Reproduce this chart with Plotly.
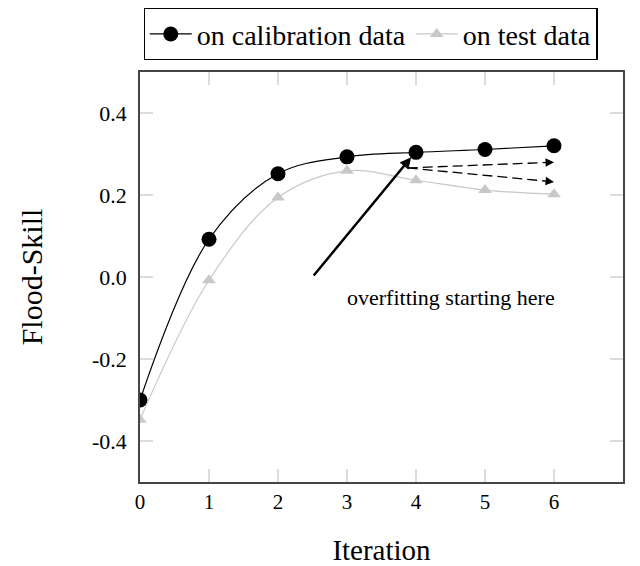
import plotly.graph_objects as go

iterations = [0, 1, 2, 3, 4, 5, 6]
calibration = [-0.30, 0.092, 0.252, 0.293, 0.304, 0.311, 0.320]
test = [-0.348, -0.008, 0.194, 0.259, 0.236, 0.212, 0.202]
y_tickvals = [-0.4, -0.2, 0.0, 0.2, 0.4]
y_ticktext = ["-0.4", "-0.2", "0.0", "0.2", "0.4"]
x_tickvals = [0, 1, 2, 3, 4, 5, 6]

# annotation geometry (data coords)
main_arrow_tail = (2.5, 0.0)
main_arrow_tip = (3.93, 0.292)
dash_start = (3.88, 0.266)
dash_ends = [(6.0, 0.280), (6.0, 0.232)]
note_pos = (4.5, -0.05)
note_text = "overfitting starting here"

FONT = "Liberation Serif"

fig = go.Figure()
fig.add_trace(go.Scatter(
    x=iterations, y=calibration, name="on calibration data",
    mode="lines+markers",
    line=dict(color="black", width=1.2, shape="spline", smoothing=1.0),
    marker=dict(symbol="circle", size=15, color="black"),
))
fig.add_trace(go.Scatter(
    x=iterations, y=test, name="on test data",
    mode="lines+markers",
    line=dict(color="#c8c8c8", width=1.2, shape="spline", smoothing=1.0),
    marker=dict(symbol="triangle-up", size=12, color="#c8c8c8"),
))

# dashed arrows
for ex, ey in dash_ends:
    slope = (ey - dash_start[1]) / (ex - dash_start[0])
    fig.add_trace(go.Scatter(
        x=[dash_start[0], ex - 0.08], y=[dash_start[1], ey - 0.08 * slope],
        mode="lines", line=dict(color="black", width=1.3, dash="10px,5px"),
        showlegend=False, hoverinfo="skip",
    ))
    fig.add_annotation(
        x=ex, y=ey, ax=ex - 0.1, ay=ey - 0.1 * slope,
        xref="x", yref="y", axref="x", ayref="y",
        text="", showarrow=True, arrowhead=2, arrowsize=1.3, arrowwidth=1.3,
        arrowcolor="black",
    )

fig.add_annotation(
    x=main_arrow_tip[0], y=main_arrow_tip[1],
    ax=main_arrow_tail[0], ay=main_arrow_tail[1],
    xref="x", yref="y", axref="x", ayref="y",
    text="", showarrow=True, arrowhead=2, arrowsize=0.9, arrowwidth=2.5,
    arrowcolor="black",
)
fig.add_annotation(
    x=note_pos[0], y=note_pos[1], xref="x", yref="y",
    text=note_text, showarrow=False,
    font=dict(family=FONT, size=22, color="black"),
)

fig.update_layout(
    width=640, height=566,
    margin=dict(l=140, r=17, t=72, b=84, autoexpand=False),
    plot_bgcolor="white", paper_bgcolor="white",
    font=dict(family=FONT, color="black"),
    legend=dict(
        orientation="h", xref="container", x=0.579, xanchor="center",
        y=1.156, yanchor="top",
        bordercolor="black", borderwidth=1.2,
        font=dict(family=FONT, size=28, color="black"),
        itemwidth=42, tracegroupgap=0,
    ),
    xaxis=dict(
        range=[0, 7], tickvals=x_tickvals, ticks="inside", ticklen=13,
        tickcolor="#dcdcdc", tickwidth=1.5, showgrid=False, zeroline=False,
        showline=True, linecolor="#444", linewidth=1.6, mirror="ticks",
        tickfont=dict(family=FONT, size=21), ticklabelstandoff=0,
        automargin=False,
        title=dict(text="Iteration", font=dict(family=FONT, size=29), standoff=43),
    ),
    yaxis=dict(
        range=[-0.5, 0.5], tickvals=y_tickvals, ticktext=y_ticktext,
        ticks="inside", ticklen=13, tickcolor="#dcdcdc", tickwidth=1.5,
        showgrid=False, zeroline=False,
        showline=True, linecolor="#444", linewidth=1.6, mirror="ticks",
        tickfont=dict(family=FONT, size=22), ticklabelstandoff=7,
        automargin=False,
        title=dict(text="Flood-Skill", font=dict(family=FONT, size=30), standoff=40),
    ),
)

fig.write_html("out.html")
